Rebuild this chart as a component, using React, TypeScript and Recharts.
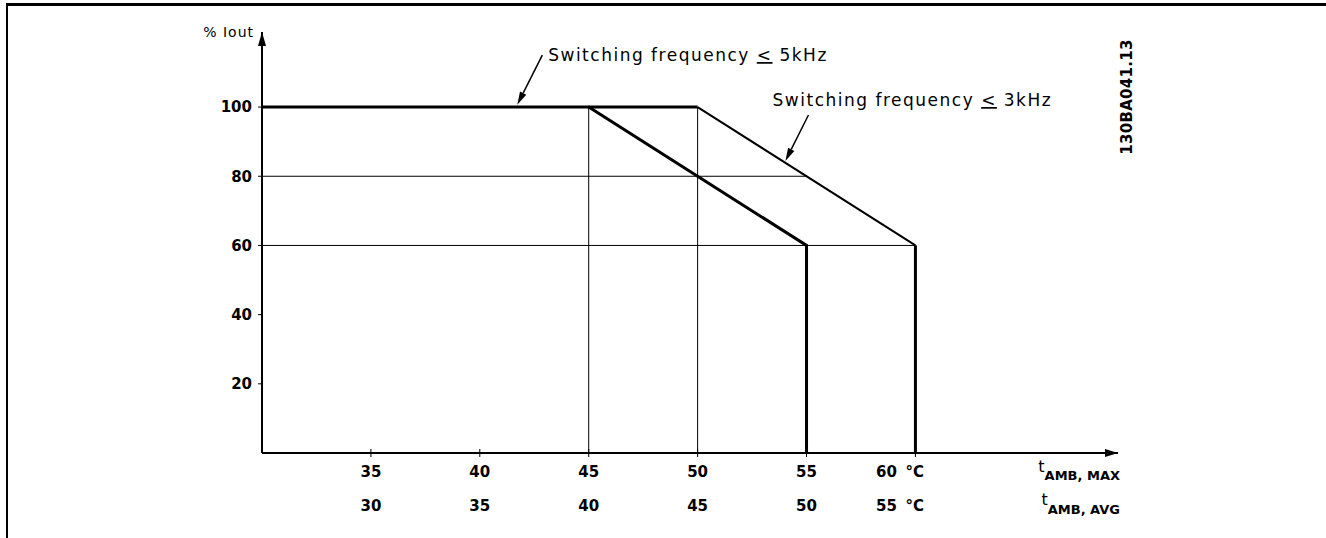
import { LineChart, Line, XAxis, YAxis, ReferenceLine, ReferenceDot } from "recharts";

const tMaxTicks = [35, 40, 45, 50, 55, 60];
const tAvgTicks = [30, 35, 40, 45, 50, 55];
const ioutTicks = [20, 40, 60, 80, 100];

const tMaxDomain = [30, 69.3];
const ioutDomain = [0, 121.7];

// derating at switching frequency <= 5kHz
const curve5kHz = [
  { t: 30, iout: 100 },
  { t: 45, iout: 100 },
  { t: 55, iout: 60 },
  { t: 55, iout: 0 },
];
// derating at switching frequency <= 3kHz
const plateau3kHz = [
  { t: 45, iout: 100 },
  { t: 50, iout: 100 },
];
const slope3kHz = [
  { t: 50, iout: 100 },
  { t: 60, iout: 60 },
];
const cutoff3kHz = [
  { t: 60, iout: 60 },
  { t: 60, iout: 0 },
];

const gridVertical = [45, 50];
const gridHorizontal = [
  { iout: 80, until: 55 },
  { iout: 60, until: 60 },
];

const notes = [
  { khz: "5kHz", at: { t: 43.14, iout: 113.3 }, tail: { t: 42.87, iout: 115 }, tip: { t: 41.72, iout: 100.7 } },
  { khz: "3kHz", at: { t: 53.44, iout: 100.3 }, tail: { t: 55.09, iout: 97.7 }, tip: { t: 54.03, iout: 84.4 } },
];

const drawingId = "130BA041.13";
const font = "'DejaVu Sans', Verdana, sans-serif";

const Arrow = (p: any) => {
  const { x1, y1, x2, y2 } = p;
  const a = Math.atan2(y2 - y1, x2 - x1);
  const len = 13;
  const half = 3.5;
  const bx = x2 - len * Math.cos(a);
  const by = y2 - len * Math.sin(a);
  const px = -Math.sin(a) * half;
  const py = Math.cos(a) * half;
  return (
    <g>
      <line x1={x1} y1={y1} x2={bx} y2={by} stroke="#000" strokeWidth={1.5} />
      <polygon points={`${x2},${y2} ${bx + px},${by + py} ${bx - px},${by - py}`} fill="#000" />
    </g>
  );
};

const tickText = { fontFamily: font, fontSize: 15, fontWeight: "bold", fill: "#000" } as any;

// one label for t_AMB,MAX and, a row below, the matching t_AMB,AVG value
const TempTick = (p: any) => {
  const { x, y, payload, index } = p;
  const rows = [
    { value: payload.value, dy: 12, last: index === tMaxTicks.length - 1 },
    { value: tAvgTicks[index], dy: 46, last: index === tAvgTicks.length - 1 },
  ];
  return (
    <g>
      <line x1={x} x2={x} y1={y - 16} y2={y - 8} stroke="#000" strokeWidth={1} />
      {rows.map((r, i) => (
        <g key={i}>
          <text x={r.last ? x - 29 : x} y={y + r.dy} textAnchor="middle" {...tickText}>
            {r.value}
          </text>
          {r.last && (
            <text x={x - 10} y={y + r.dy} textAnchor="start" {...tickText}>
              °C
            </text>
          )}
        </g>
      ))}
    </g>
  );
};

export default function App() {
  return (
    <div style={{ position: "absolute", left: 0, top: 0, width: 1326, height: 538, background: "#fff", overflow: "hidden" }}>
      <div style={{ position: "absolute", left: 6, top: 3, right: 0, bottom: 0, borderTop: "3px solid #000", borderLeft: "2px solid #000" }} />
      <div style={{ position: "absolute", left: 0, top: 0 }}>
        <LineChart width={1326} height={538} margin={{ top: 32, right: 208, bottom: 11, left: 202 }}>
          <XAxis
            dataKey="t"
            type="number"
            domain={tMaxDomain}
            allowDataOverflow
            ticks={tMaxTicks}
            height={74}
            tickSize={4}
            tickMargin={8}
            tickLine={false}
            axisLine={{ stroke: "#000", strokeWidth: 2 }}
            tick={(p: any) => <TempTick {...p} />}
          />
          <YAxis
            type="number"
            domain={ioutDomain}
            allowDataOverflow
            ticks={ioutTicks}
            width={60}
            tickSize={4}
            tickMargin={6}
            tickLine={{ stroke: "#000", strokeWidth: 1 }}
            axisLine={{ stroke: "#000", strokeWidth: 2 }}
            tick={{ fill: "#000", fontSize: 15, fontWeight: "bold", fontFamily: font }}
          />

          {gridVertical.map((t) => (
            <ReferenceLine key={"v" + t} segment={[{ x: t, y: 0 }, { x: t, y: 100 }]} stroke="#000" strokeWidth={1} ifOverflow="visible" />
          ))}
          {gridHorizontal.map((g) => (
            <ReferenceLine key={"h" + g.iout} segment={[{ x: 30, y: g.iout }, { x: g.until, y: g.iout }]} stroke="#000" strokeWidth={1} ifOverflow="visible" />
          ))}

          <Line data={slope3kHz} dataKey="iout" stroke="#000" strokeWidth={2} dot={false} isAnimationActive={false} />
          <Line data={plateau3kHz} dataKey="iout" stroke="#000" strokeWidth={3} dot={false} isAnimationActive={false} />
          <Line data={cutoff3kHz} dataKey="iout" stroke="#000" strokeWidth={3} dot={false} isAnimationActive={false} />
          <Line data={curve5kHz} dataKey="iout" stroke="#000" strokeWidth={3} dot={false} isAnimationActive={false} strokeLinejoin="miter" />

          {notes.map((n) => (
            <ReferenceLine
              key={"a" + n.khz}
              segment={[{ x: n.tail.t, y: n.tail.iout }, { x: n.tip.t, y: n.tip.iout }]}
              ifOverflow="visible"
              shape={(p: any) => <Arrow {...p} />}
            />
          ))}
          {notes.map((n) => (
            <ReferenceDot
              key={"n" + n.khz}
              x={n.at.t}
              y={n.at.iout}
              ifOverflow="visible"
              shape={(p: any) => (
                <text x={p.cx} y={p.cy} fontFamily={font} fontSize={17} letterSpacing={1.5} fill="#000">
                  Switching frequency <tspan style={{ textDecoration: "underline" }}>{"<"}</tspan> {n.khz}
                </text>
              )}
            />
          ))}

          {/* y axis arrow head and unit */}
          <ReferenceDot
            x={30}
            y={121.7}
            ifOverflow="visible"
            shape={(p: any) => (
              <g>
                <polygon points={`${p.cx},${p.cy} ${p.cx - 4},${p.cy + 14} ${p.cx + 4},${p.cy + 14}`} fill="#000" />
                <text x={p.cx - 8} y={p.cy + 5} textAnchor="end" fontFamily={font} fontSize={14} letterSpacing={1} fill="#000">
                  % Iout
                </text>
              </g>
            )}
          />
          {/* x axis arrow head and axis names */}
          <ReferenceDot
            x={69.3}
            y={0}
            ifOverflow="visible"
            shape={(p: any) => (
              <g>
                <polygon points={`${p.cx},${p.cy} ${p.cx - 13},${p.cy - 4} ${p.cx - 13},${p.cy + 4}`} fill="#000" />
                <text x={p.cx + 2} y={p.cy + 19} textAnchor="end" fontFamily={font} fontSize={16} fill="#000">
                  t<tspan dy={8} fontSize={13} fontWeight="bold">AMB,  MAX</tspan>
                </text>
                <text x={p.cx + 2} y={p.cy + 52} textAnchor="end" fontFamily={font} fontSize={16} fill="#000">
                  t<tspan dy={9} fontSize={13} fontWeight="bold">AMB,  AVG</tspan>
                </text>
              </g>
            )}
          />
          <ReferenceDot
            x={69.71}
            y={102.9}
            ifOverflow="visible"
            shape={(p: any) => (
              <text
                x={p.cx}
                y={p.cy}
                transform={`rotate(-90 ${p.cx} ${p.cy})`}
                textAnchor="middle"
                dominantBaseline="central"
                fontFamily={font}
                fontSize={15}
                fontWeight="bold"
                letterSpacing={0.3}
                fill="#000"
              >
                {drawingId}
              </text>
            )}
          />
        </LineChart>
      </div>
    </div>
  );
}
